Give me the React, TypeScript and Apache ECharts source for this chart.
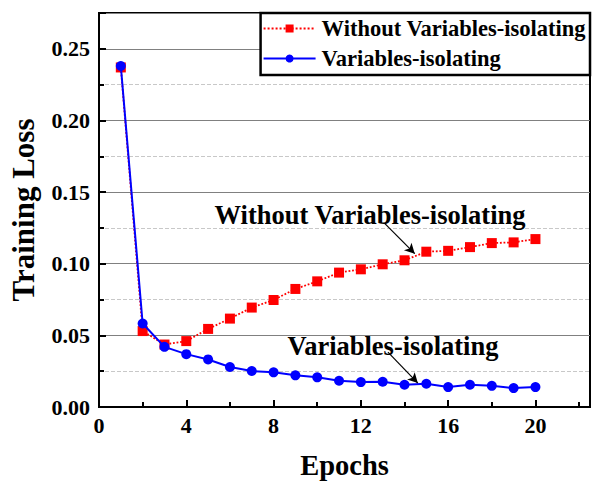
import React, { useEffect, useRef } from "react";
import * as echarts from "echarts";

const epochs = [1, 2, 3, 4, 5, 6, 7, 8, 9, 10, 11, 12, 13, 14, 15, 16, 17, 18, 19, 20];
const withoutVI = [0.237, 0.053, 0.0436, 0.046, 0.0545, 0.0617, 0.0694, 0.0747, 0.0824, 0.0877, 0.0938, 0.0961, 0.0996, 0.1024, 0.1084, 0.109, 0.1116, 0.1144, 0.1149, 0.1172];
const withVI = [0.238, 0.0583, 0.042, 0.0369, 0.0332, 0.0279, 0.0251, 0.0242, 0.0221, 0.0207, 0.0183, 0.0174, 0.0176, 0.0155, 0.0162, 0.0139, 0.0155, 0.0148, 0.0132, 0.0139];
const seriesNames = ["Without Variables-isolating", "Variables-isolating"];
const annotations = [
  { text: "Without Variables-isolating", at: [12.42, 0.134], from: [13.1, 0.128], to: [14.47, 0.107] },
  { text: "Variables-isolating", at: [13.47, 0.0425], from: [13.24, 0.0383], to: [14.61, 0.0167] },
];

const FONT = "Liberation Serif";

export default function App() {
  const ref = useRef<HTMLDivElement>(null);
  useEffect(() => {
    if (!ref.current) return;
    const chart = echarts.init(ref.current, null, { renderer: "svg" });
    chart.setOption({
      animation: false,
      backgroundColor: "#fff",
      grid: { left: 98, right: 5, top: 13, bottom: 78, show: true, borderColor: "#000", borderWidth: 2 },
      legend: {
        orient: "vertical",
        right: 5,
        top: 13,
        data: seriesNames,
        backgroundColor: "#fff",
        borderColor: "#000",
        borderWidth: 2.5,
        padding: [4, 4, 5, 2],
        itemGap: 7,
        itemWidth: 52,
        itemHeight: 10,
        textStyle: { fontFamily: FONT, fontWeight: "bold", fontSize: 22.5, color: "#000", padding: [0, 0, 0, 1] },
      },
      xAxis: {
        type: "value",
        min: 0,
        max: 22.5,
        interval: 4,
        name: "Epochs",
        nameLocation: "middle",
        nameGap: 44,
        nameTextStyle: { fontFamily: FONT, fontWeight: "bold", fontSize: 28.5, color: "#000" },
        axisLine: { lineStyle: { color: "#000", width: 2 } },
        axisTick: { inside: true, length: 7, lineStyle: { color: "#000", width: 2 } },
        minorTick: { show: true, splitNumber: 2, length: 5, lineStyle: { color: "#000", width: 2 } },
        axisLabel: { showMaxLabel: false, fontFamily: FONT, fontWeight: "bold", fontSize: 22, color: "#000", margin: 7 },
        splitLine: { show: false },
      },
      yAxis: {
        type: "value",
        min: 0,
        max: 0.275,
        interval: 0.05,
        name: "Training Loss",
        nameLocation: "middle",
        nameGap: 60,
        nameTextStyle: { fontFamily: FONT, fontWeight: "bold", fontSize: 31, color: "#000" },
        axisLine: { lineStyle: { color: "#000", width: 2 } },
        axisTick: { inside: true, length: 7, lineStyle: { color: "#000", width: 2 } },
        minorTick: { show: true, splitNumber: 2, length: 5, lineStyle: { color: "#000", width: 2 } },
        axisLabel: {
          showMaxLabel: false,
          fontFamily: FONT,
          fontWeight: "bold",
          fontSize: 22,
          color: "#000",
          margin: 9,
          formatter: (v: number) => v.toFixed(2),
        },
        splitLine: { show: true, lineStyle: { color: "#808080", width: 1 } },
        minorSplitLine: { show: true, lineStyle: { color: "#c8c8c8", width: 1, type: "dashed" } },
      },
      series: [
        {
          name: seriesNames[0],
          type: "line",
          data: epochs.map((e, i) => [e, withoutVI[i]]),
          symbol: "rect",
          symbolSize: 10,
          itemStyle: { color: "#ff0000" },
          lineStyle: { color: "#ff0000", width: 1.8, type: "dotted" },
          markLine: {
            silent: true,
            symbol: ["none", "arrow"],
            symbolSize: [8, 10],
            label: { show: false },
            lineStyle: { color: "#000", width: 1.2, type: "solid" },
            data: annotations.map((a) => [
              { coord: a.from, symbol: "none" },
              { coord: a.to, symbol: "arrow" },
            ]),
          },
          markPoint: {
            silent: true,
            symbol: "circle",
            symbolSize: 0,
            label: {
              show: true,
              position: "inside",
              fontFamily: FONT,
              fontWeight: "bold",
              fontSize: 26.5,
              color: "#000",
              formatter: (p: any) => p.name,
            },
            data: annotations.map((a) => ({ name: a.text, coord: a.at, value: 0 })),
          },
          z: 2,
        },
        {
          name: seriesNames[1],
          type: "line",
          data: epochs.map((e, i) => [e, withVI[i]]),
          symbol: "circle",
          symbolSize: 10,
          itemStyle: { color: "#0000ff" },
          lineStyle: { color: "#0000ff", width: 2 },
          z: 3,
        },
      ],
    });
    return () => chart.dispose();
  }, []);
  return <div ref={ref} style={{ width: 595, height: 485, position: "absolute", left: 0, top: 0 }} />;
}
